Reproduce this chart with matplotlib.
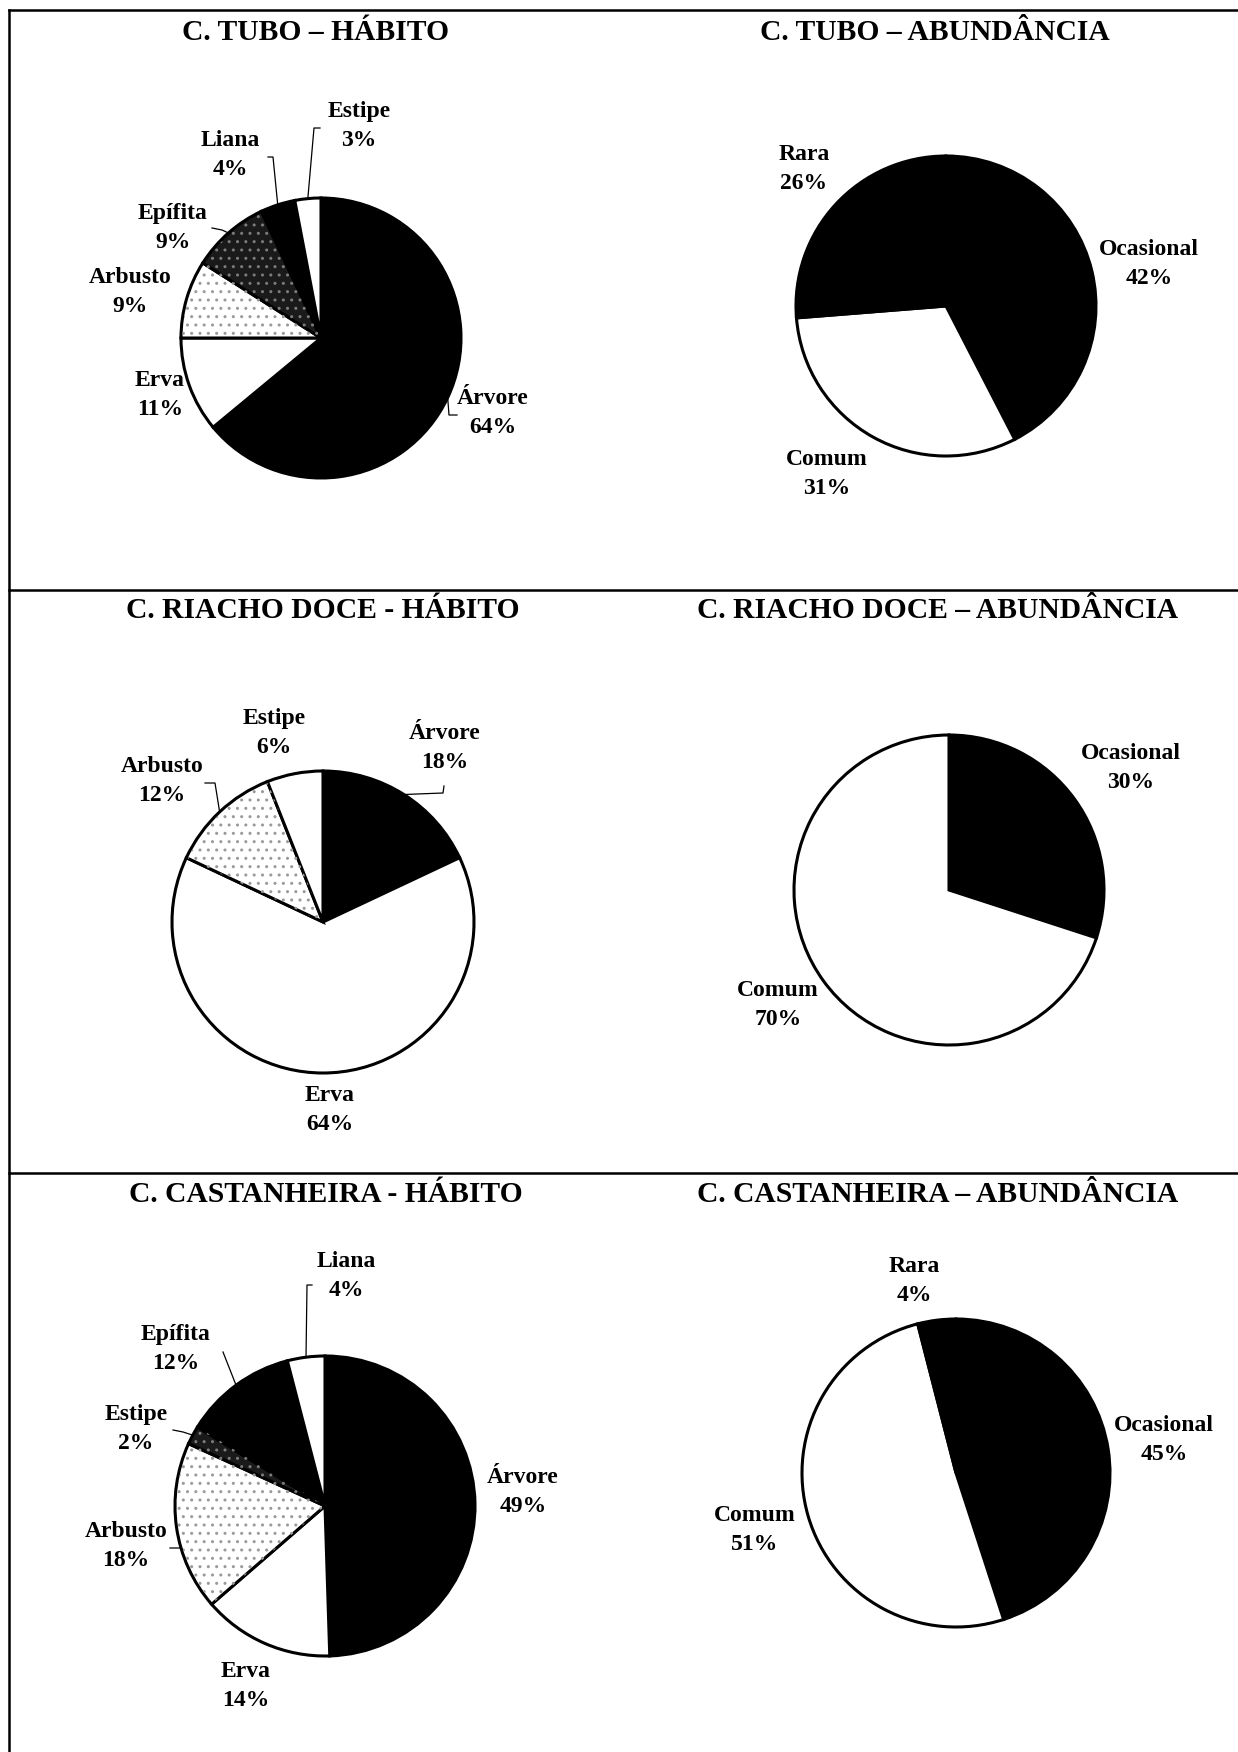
import matplotlib
matplotlib.use('Agg')
import matplotlib.pyplot as plt
from matplotlib.patches import Wedge
import numpy as np

plt.rcParams['font.family'] = ['Liberation Serif', 'DejaVu Serif']
plt.rcParams['font.weight'] = 'bold'

# dados (%)
tubo_hab_cat = ['Árvore', 'Erva', 'Arbusto', 'Epífita', 'Liana', 'Estipe']
tubo_hab_pct = [64, 11, 9, 9, 4, 3]
tubo_abu_cat = ['Ocasional', 'Comum', 'Rara']
tubo_abu_pct = [42, 31, 26]
riacho_hab_cat = ['Árvore', 'Erva', 'Arbusto', 'Estipe']
riacho_hab_pct = [18, 64, 12, 6]
riacho_abu_cat = ['Ocasional', 'Comum']
riacho_abu_pct = [30, 70]
cast_hab_cat = ['Árvore', 'Erva', 'Arbusto', 'Estipe', 'Epífita', 'Liana']
cast_hab_pct = [49, 14, 18, 2, 12, 4]
cast_abu_cat = ['Ocasional', 'Comum', 'Rara']
cast_abu_pct = [45, 51, 4]

titulos = ['C. TUBO – HÁBITO', 'C. TUBO – ABUNDÂNCIA',
           'C. RIACHO DOCE - HÁBITO', 'C. RIACHO DOCE – ABUNDÂNCIA',
           'C. CASTANHEIRA - HÁBITO', 'C. CASTANHEIRA – ABUNDÂNCIA']

# estilos de preenchimento (cor, hachura, cor da hachura)
PRETO = ('black', None, None)
BRANCO = ('white', None, None)
CLARO = ('white', '..', '#9a9a9a')
ESCURO = ('#1a1a1a', '..', '#7c7c7c')

W, H = 1238, 1752
fig = plt.figure(figsize=(W / 100, H / 100), dpi=100)


def linha(x0, y0, x1, y1, lw=1.8):
    fig.add_artist(plt.Line2D([x0 / W, x1 / W], [1 - y0 / H, 1 - y1 / H],
                              transform=fig.transFigure, color='black', lw=lw))


# moldura
linha(9, 10, W, 10)
linha(9, 10, 9, H)
linha(9, 590, W, 590)
linha(9, 1173, W, 1173)


def pizza(cx, cy, r, vals, cats, estilos, pos_rot, guias):
    # posições de rótulos e guias em pixels da página
    k = 2.0
    ax = fig.add_axes([(cx - k * r) / W, 1 - (cy + k * r) / H, 2 * k * r / W, 2 * k * r / H])
    wedges, _ = ax.pie(vals, startangle=90, counterclock=False,
                       colors=[e[0] for e in estilos],
                       wedgeprops=dict(edgecolor='black', linewidth=2.2))
    for w, e in zip(wedges, estilos):
        if e[1]:
            ax.add_patch(Wedge((0, 0), 0.99, w.theta1, w.theta2, facecolor='none',
                               edgecolor=e[2], lw=0, hatch=e[1]))
    for w, c, v, p, g in zip(wedges, cats, vals, pos_rot, guias):
        ax.text((p[0] - cx) / r, (cy - p[1]) / r, f'{c}\n{v}%', ha='center', va='center',
                fontsize=17, linespacing=1.45)
        if g:
            t = np.deg2rad((w.theta1 + w.theta2) / 2)
            xs = [np.cos(t)] + [(q[0] - cx) / r for q in g]
            ys = [np.sin(t)] + [(cy - q[1]) / r for q in g]
            ax.plot(xs, ys, color='black', lw=0.9)
    ax.set_xlim(-k, k)
    ax.set_ylim(-k, k)
    ax.set_axis_off()
    return ax


pizza(321, 338, 140, tubo_hab_pct, tubo_hab_cat,
      [PRETO, BRANCO, CLARO, ESCURO, PRETO, BRANCO],
      [(493, 413), (160, 395), (130, 292), (173, 228), (230, 155), (359, 126)],
      [[(449, 415), (457, 415)], None, None,
       [(222, 230), (212, 228)], [(273, 157), (268, 157)],
       [(314, 128), (320, 128)]])

pizza(946, 306, 150, tubo_abu_pct, tubo_abu_cat,
      [PRETO, BRANCO, PRETO],
      [(1149, 264), (827, 474), (804, 169)],
      [None, None, None])

pizza(323, 922, 151, riacho_hab_pct, riacho_hab_cat,
      [PRETO, BRANCO, CLARO, BRANCO],
      [(445, 748), (330, 1110), (162, 781), (274, 733)],
      [[(443, 793), (444, 786)], None,
       [(215, 783), (205, 783)], None])

pizza(949, 890, 155, riacho_abu_pct, riacho_abu_cat,
      [PRETO, BRANCO],
      [(1131, 768), (778, 1005)],
      [None, None])

pizza(325, 1506, 150, cast_hab_pct, cast_hab_cat,
      [PRETO, BRANCO, CLARO, ESCURO, PRETO, BRANCO],
      [(523, 1492), (246, 1686), (126, 1546), (136, 1429), (176, 1349), (346, 1276)],
      [None, None, [(181, 1548), (170, 1548)],
       [(183, 1432), (173, 1430)], [(223, 1352)],
       [(307, 1285), (312, 1285)]])

pizza(956, 1473, 154, cast_abu_pct, cast_abu_cat,
      [PRETO, BRANCO, PRETO],
      [(1164, 1440), (755, 1530), (914, 1281)],
      [None, None, None])

# títulos
pos_tit = [(316, 32), (935, 32), (323, 610), (938, 610), (326, 1194), (938, 1194)]
for t, (x, y) in zip(titulos, pos_tit):
    fig.text(x / W, 1 - y / H, t, ha='center', va='center', fontsize=21.3)

fig.savefig('out.png', dpi=100, facecolor='white')
